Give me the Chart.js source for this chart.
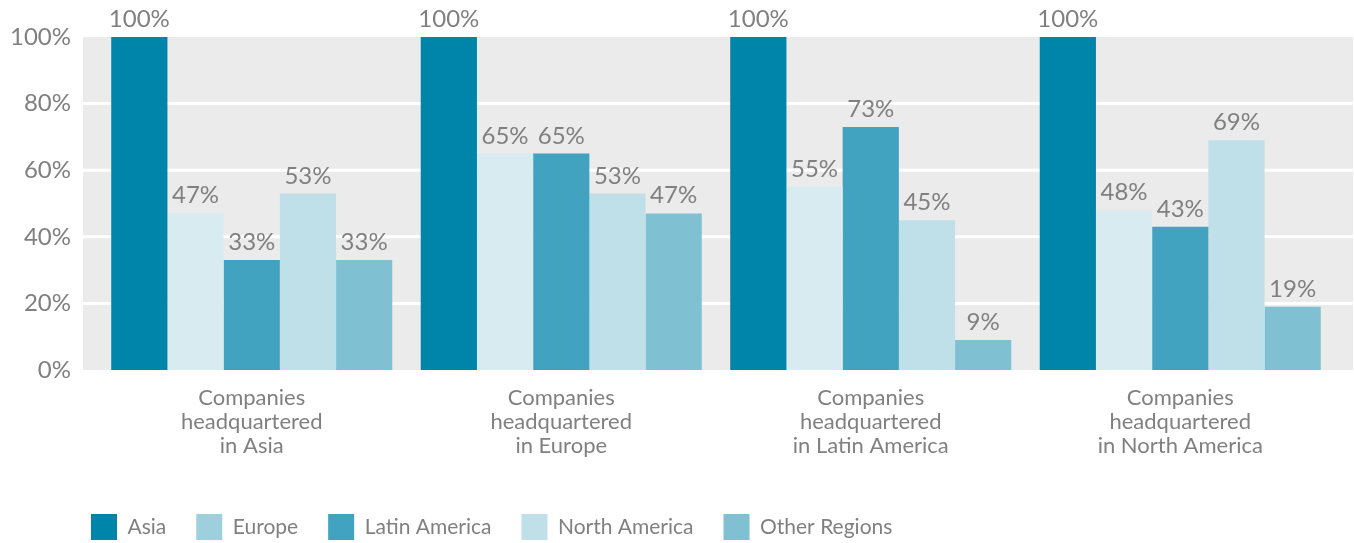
<!DOCTYPE html>
<html>
<head>
<meta charset="utf-8">
<script src="https://cdn.jsdelivr.net/npm/chart.js@4"></script>
<style>
  html, body { margin: 0; padding: 0; background: #fff; }
  #wrap { width: 1354px; height: 543px; }
</style>
</head>
<body>
<div id="wrap"><canvas id="chart1"></canvas></div>
<script>
const categories = [
  ["Companies", "headquartered", "in Asia"],
  ["Companies", "headquartered", "in Europe"],
  ["Companies", "headquartered", "in Latin America"],
  ["Companies", "headquartered", "in North America"],
];
const seriesNames = ["Asia", "Europe", "Latin America", "North America", "Other Regions"];
const asiaValues = [100, 100, 100, 100];
const europeValues = [47, 65, 55, 48];
const latinValues = [33, 65, 73, 43];
const northValues = [53, 53, 45, 69];
const otherValues = [33, 47, 9, 19];
const yTicks = [0, 20, 40, 60, 80, 100];

const barColors = ["#0085aa", "#d8ebf0", "#41a3bf", "#bfe0e8", "#80c0d3"];
const legendColors = ["#0085aa", "#9dd0dc", "#41a3bf", "#bfe0e8", "#80c0d3"];
const textColor = "#808080";
const fontFamily = "Lato, 'Open Sans', sans-serif";

// grey panel with white grid lines, a little wider than the bars area
const panelPlugin = {
  id: "panel",
  beforeDraw(chart) {
    const { ctx, chartArea, scales } = chart;
    const left = chartArea.left - 14;
    const right = chart.width - 1;
    ctx.save();
    ctx.fillStyle = "#ebebeb";
    ctx.fillRect(left, chartArea.top, right - left, chartArea.bottom - chartArea.top);
    ctx.strokeStyle = "#ffffff";
    ctx.lineWidth = 3;
    yTicks.forEach((t) => {
      if (t === 0 || t === 100) return;
      const y = scales.y.getPixelForValue(t);
      ctx.beginPath();
      ctx.moveTo(left, y);
      ctx.lineTo(right, y);
      ctx.stroke();
    });
    ctx.restore();
  },
};

// value labels on top of every bar
const valueLabels = {
  id: "valueLabels",
  afterDatasetsDraw(chart) {
    const { ctx } = chart;
    ctx.save();
    ctx.fillStyle = textColor;
    ctx.font = "24px " + fontFamily;
    ctx.textAlign = "center";
    ctx.textBaseline = "alphabetic";
    chart.data.datasets.forEach((ds, i) => {
      chart.getDatasetMeta(i).data.forEach((bar, j) => {
        ctx.fillText(ds.data[j] + "%", bar.x, bar.y - 10);
      });
    });
    ctx.restore();
  },
};

// nudge the legend under the y axis labels, like in the original
const legendShift = {
  id: "legendShift",
  afterLayout(chart) {
    chart.legend.left += 53;
    chart.legend.top += 7;
  },
};

const allValues = [asiaValues, europeValues, latinValues, northValues, otherValues];

new Chart(document.getElementById("chart1").getContext("2d"), {
  type: "bar",
  data: {
    labels: categories,
    datasets: seriesNames.map((name, i) => ({
      label: name,
      data: allValues[i],
      backgroundColor: barColors[i],
      borderWidth: 0,
      categoryPercentage: 0.908,
      barPercentage: 1.0,
    })),
  },
  options: {
    responsive: true,
    maintainAspectRatio: false,
    animation: false,
    layout: { padding: { top: 37, left: 8, right: 19, bottom: 0 } },
    plugins: {
      tooltip: { enabled: false },
      legend: {
        position: "bottom",
        align: "start",
        labels: {
          color: textColor,
          font: { family: fontFamily, size: 21 },
          boxWidth: 26,
          boxHeight: 26,
          padding: 30,
          generateLabels(chart) {
            return seriesNames.map((name, i) => ({
              text: name,
              fillStyle: legendColors[i],
              strokeStyle: legendColors[i],
              lineWidth: 0,
              fontColor: textColor,
              datasetIndex: i,
            }));
          },
        },
      },
    },
    scales: {
      x: {
        afterFit(scale) { scale.height = 107; },
        grid: { display: false, drawTicks: false },
        border: { display: false },
        ticks: {
          color: textColor,
          font: { family: fontFamily, size: 22, lineHeight: 1.09 },
          padding: 16,
          maxRotation: 0,
        },
      },
      y: {
        min: 0,
        max: 100,
        afterFit(scale) {
          scale.width = 89;
          scale.paddingTop = 0;
          scale.paddingBottom = 0;
        },
        afterBuildTicks(scale) { scale.ticks = yTicks.map((v) => ({ value: v })); },
        grid: { display: false, drawTicks: false },
        border: { display: false },
        ticks: {
          color: textColor,
          font: { family: fontFamily, size: 24 },
          padding: 26,
          callback: (v) => v + "%",
        },
      },
    },
  },
  plugins: [panelPlugin, valueLabels, legendShift],
});
</script>
</body>
</html>
